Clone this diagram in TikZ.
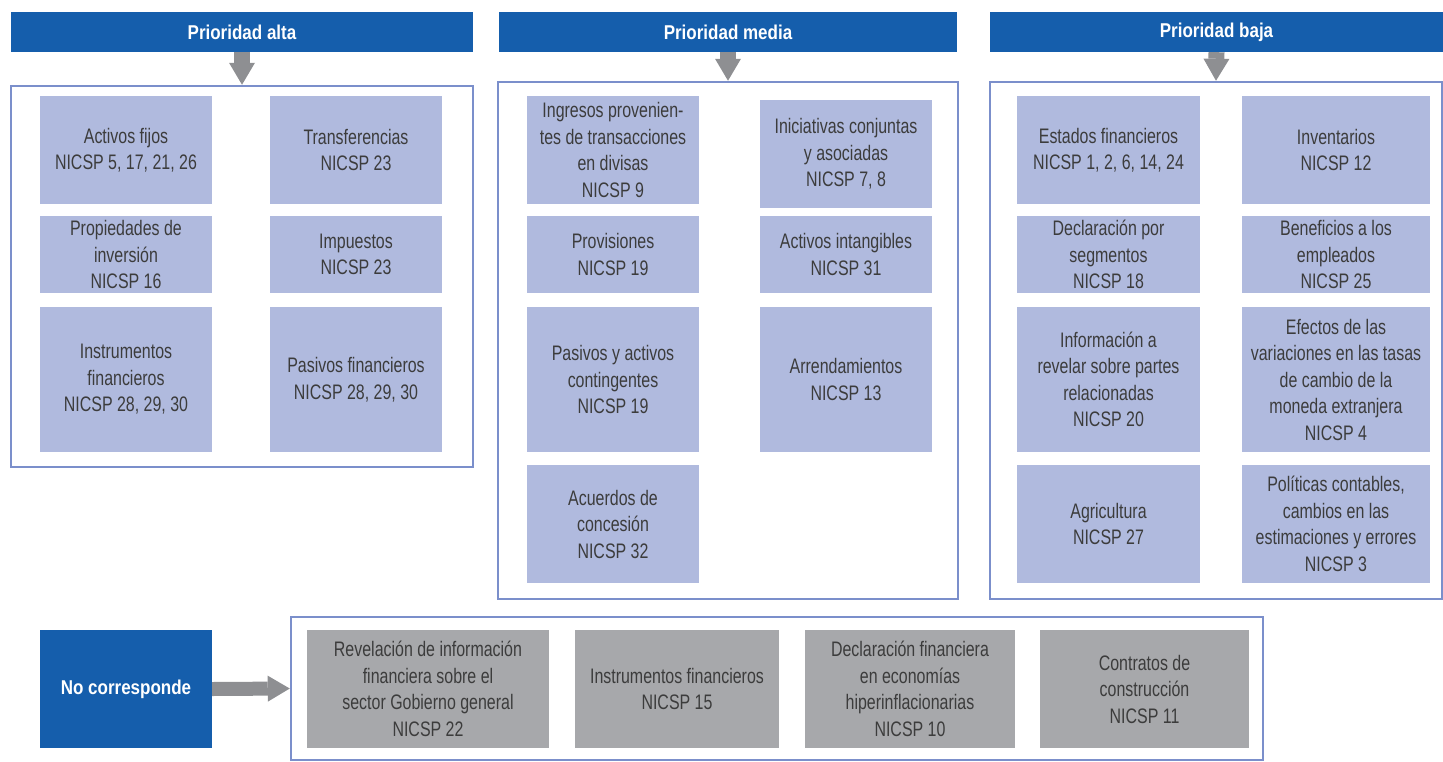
\documentclass[tikz,border=0pt]{standalone}
\usepackage{fontspec}
\setmainfont{Liberation Sans}[FakeStretch=0.76]
\newfontfamily\headfont{Liberation Sans}[FakeStretch=0.85]
\usetikzlibrary{arrows.meta}
\definecolor{cAzul}{HTML}{155EAC}
\definecolor{cMarco}{HTML}{7B8FCB}
\definecolor{cLila}{HTML}{B0BADE}
\definecolor{cGris}{HTML}{A7A8AB}
\definecolor{cFlecha}{HTML}{8E8F92}
\definecolor{cTexto}{HTML}{3C3C3C}

\begin{document}
\begin{tikzpicture}[x=1pt, y=-1pt,
  caja/.style={fill=cLila, text=cTexto, align=center, inner sep=0pt, font=\fontsize{21}{26.5}\selectfont},
  cajagris/.style={caja, fill=cGris},
  titulo/.style={fill=cAzul, text=white, align=center, inner sep=0pt, font=\headfont\bfseries\fontsize{20}{24}\selectfont, minimum height=40pt},
  recuadro/.style={draw=cMarco, line width=2.5pt, inner sep=0pt},
  flechagris/.style={draw=cFlecha, line width=16pt, -{Triangle[width=26pt, length=22pt, line width=0pt]}}]
\useasboundingbox (0,0) rectangle (1443,761);

% prioridad alta
\node[titulo, minimum width=462pt] (tAlta) at (242,32) {Prioridad alta};
\node[recuadro, minimum width=462pt, minimum height=381pt] (rAlta) at (242,276.5) {};
\draw[flechagris] (tAlta.south) -- (rAlta.north);
\node[caja, minimum width=172pt, minimum height=108pt] (activos) at (126,150) {Activos fijos\\NICSP 5, 17, 21, 26};
\node[caja, minimum width=172pt, minimum height=108pt] (transf) at (356,150) {Transferencias\\NICSP 23};
\node[caja, minimum width=172pt, minimum height=77pt] (propied) at (126,254.5) {Propiedades de\\inversión\\NICSP 16};
\node[caja, minimum width=172pt, minimum height=77pt] (impuestos) at (356,254.5) {Impuestos\\NICSP 23};
\node[caja, minimum width=172pt, minimum height=145pt] (instrum) at (126,379.5) {Instrumentos\\financieros\\NICSP 28, 29, 30};
\node[caja, minimum width=172pt, minimum height=145pt] (pasivos) at (356,379.5) {Pasivos financieros\\NICSP 28, 29, 30};

% prioridad media
\node[titulo, minimum width=458pt] (tMedia) at (728,32) {Prioridad media};
\node[recuadro, minimum width=460pt, minimum height=517pt] (rMedia) at (728,340.5) {};
\draw[flechagris] (tMedia.south) -- (rMedia.north);
\node[caja, minimum width=172pt, minimum height=108pt] (ingresos) at (613,150) {Ingresos provenien-\\tes de transacciones\\en divisas\\NICSP 9};
\node[caja, minimum width=172pt, minimum height=108pt] (iniciat) at (846,154) {Iniciativas conjuntas\\y asociadas\\NICSP 7, 8};
\node[caja, minimum width=172pt, minimum height=77pt] (provis) at (613,254.5) {Provisiones\\NICSP 19};
\node[caja, minimum width=172pt, minimum height=77pt] (intang) at (846,254.5) {Activos intangibles\\NICSP 31};
\node[caja, minimum width=172pt, minimum height=145pt] (conting) at (613,379.5) {Pasivos y activos\\contingentes\\NICSP 19};
\node[caja, minimum width=172pt, minimum height=145pt] (arrend) at (846,379.5) {Arrendamientos\\NICSP 13};
\node[caja, minimum width=172pt, minimum height=118pt] (acuerdos) at (613,524) {Acuerdos de\\concesión\\NICSP 32};

% prioridad baja
\node[titulo, minimum width=453pt] (tBaja) at (1216.5,32) {Prioridad baja};
\node[recuadro, minimum width=452pt, minimum height=517pt] (rBaja) at (1216,340.5) {};
\draw[flechagris] (tBaja.south) -- (rBaja.north);
\node[caja, minimum width=183pt, minimum height=108pt] (estados) at (1108.5,150) {Estados financieros\\NICSP 1, 2, 6, 14, 24};
\node[caja, minimum width=188pt, minimum height=108pt] (invent) at (1336,150) {Inventarios\\NICSP 12};
\node[caja, minimum width=183pt, minimum height=77pt] (segm) at (1108.5,254.5) {Declaración por\\segmentos\\NICSP 18};
\node[caja, minimum width=188pt, minimum height=77pt] (benef) at (1336,254.5) {Beneficios a los\\empleados\\NICSP 25};
\node[caja, minimum width=183pt, minimum height=145pt] (partes) at (1108.5,379.5) {Información a\\revelar sobre partes\\relacionadas\\NICSP 20};
\node[caja, minimum width=188pt, minimum height=145pt] (efectos) at (1336,379.5) {Efectos de las\\variaciones en las tasas\\de cambio de la\\moneda extranjera\\NICSP 4};
\node[caja, minimum width=183pt, minimum height=118pt] (agric) at (1108.5,524) {Agricultura\\NICSP 27};
\node[caja, minimum width=188pt, minimum height=118pt] (politic) at (1336,524) {Políticas contables,\\cambios en las\\estimaciones y errores\\NICSP 3};

% no corresponde
\node[titulo, minimum width=172pt, minimum height=118pt] (noCorr) at (126,689) {No corresponde};
\node[recuadro, minimum width=972pt, minimum height=143pt] (rNo) at (777,688.5) {};
\draw[flechagris, line width=14pt] (noCorr.east) -- (rNo.west);
\node[cajagris, minimum width=242pt, minimum height=118pt] (revel) at (428,689) {Revelación de información\\financiera sobre el\\sector Gobierno general\\NICSP 22};
\node[cajagris, minimum width=204pt, minimum height=118pt] (instr15) at (677,689) {Instrumentos financieros\\NICSP 15};
\node[cajagris, minimum width=210pt, minimum height=118pt] (hiper) at (910,689) {Declaración financiera\\en economías\\hiperinflacionarias\\NICSP 10};
\node[cajagris, minimum width=209pt, minimum height=118pt] (contratos) at (1144.5,689) {Contratos de\\construcción\\NICSP 11};
\end{tikzpicture}
\end{document}
